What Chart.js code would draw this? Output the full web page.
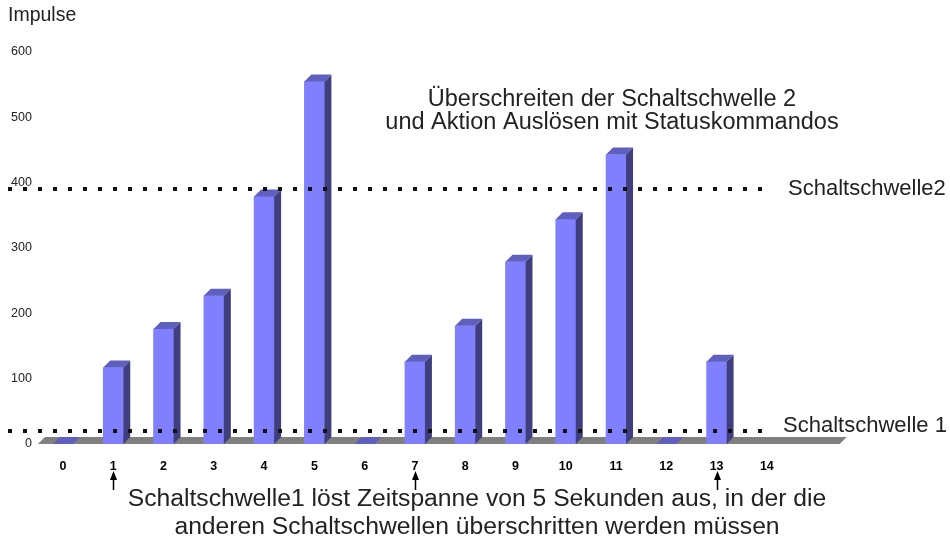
<!DOCTYPE html>
<html>
<head>
<meta charset="utf-8">
<script src="https://cdn.jsdelivr.net/npm/chart.js@4/dist/chart.umd.min.js"></script>
<style>
  html, body { margin: 0; padding: 0; background: #fff; }
  #wrap { width: 950px; height: 541px; position: relative; }
</style>
</head>
<body>
<div id="wrap"><canvas id="chart"></canvas></div>
<script>
// data
const seconds = ["0", "1", "2", "3", "4", "5", "6", "7", "8", "9", "10", "11", "12", "13", "14"];
const impulses = [0, 117, 176, 227, 379, 555, 0, 126, 181, 279, 344, 443, 0, 126, null];
const yTicks = [0, 100, 200, 300, 400, 500, 600];
const threshold1 = 20;
const threshold2 = 391;
const triggerSeconds = ["1", "7", "13"];

const FRONT = "#8080ff";
const SIDE = "#3f3f7f";
const TOP = "#5f5fbf";
const FLOOR = "#808080";
const DEPTH = 7;
const FONT = "'Liberation Sans', Arial, sans-serif";

// floor, 3d faces, threshold lines, arrows and notes
const threeD = {
    id: "threeD",
    beforeDatasetsDraw(chart) {
        const ctx = chart.ctx;
        const x = chart.scales.x;
        const y = chart.scales.y;
        const step = x.getPixelForValue(1) - x.getPixelForValue(0);
        const base = y.getPixelForValue(0);
        const left = chart.chartArea.left;
        const right = x.getPixelForValue(seconds.length - 1) + step * 1.45;
        ctx.save();
        ctx.fillStyle = FLOOR;
        ctx.beginPath();
        ctx.moveTo(left, base);
        ctx.lineTo(right, base);
        ctx.lineTo(right + DEPTH, base - DEPTH);
        ctx.lineTo(left + DEPTH, base - DEPTH);
        ctx.closePath();
        ctx.fill();
        ctx.restore();
    },
    afterDatasetsDraw(chart) {
        const ctx = chart.ctx;
        const meta = chart.getDatasetMeta(0);
        ctx.save();
        meta.data.forEach((bar, i) => {
            if (impulses[i] === null) return;
            const half = bar.width / 2;
            const l = bar.x - half, r = bar.x + half;
            const top = bar.y, base = bar.base;
            // side
            ctx.fillStyle = SIDE;
            ctx.beginPath();
            ctx.moveTo(r, top);
            ctx.lineTo(r + DEPTH, top - DEPTH);
            ctx.lineTo(r + DEPTH, base - DEPTH);
            ctx.lineTo(r, base);
            ctx.closePath();
            ctx.fill();
            // top
            ctx.fillStyle = TOP;
            ctx.beginPath();
            ctx.moveTo(l, top);
            ctx.lineTo(r, top);
            ctx.lineTo(r + DEPTH, top - DEPTH);
            ctx.lineTo(l + DEPTH, top - DEPTH);
            ctx.closePath();
            ctx.fill();
        });
        ctx.restore();
    },
    afterDraw(chart) {
        const ctx = chart.ctx;
        const x = chart.scales.x;
        const y = chart.scales.y;
        ctx.save();

        // dotted thresholds
        ctx.strokeStyle = "#111";
        ctx.lineWidth = 4;
        ctx.setLineDash([4, 11]);
        [threshold1, threshold2].forEach(t => {
            const py = Math.round(y.getPixelForValue(t));
            ctx.beginPath();
            ctx.moveTo(8, py);
            ctx.lineTo(770, py);
            ctx.stroke();
        });
        ctx.setLineDash([]);

        ctx.fillStyle = "#222";
        ctx.textBaseline = "middle";
        ctx.font = "22px " + FONT;
        ctx.textAlign = "left";
        ctx.fillText("Schaltschwelle2", 788, y.getPixelForValue(threshold2));
        ctx.fillText("Schaltschwelle 1", 783, y.getPixelForValue(threshold1) - 5);

        ctx.font = "19.5px " + FONT;
        ctx.fillText("Impulse", 8, 16);

        ctx.textAlign = "center";
        ctx.font = "23.5px " + FONT;
        ctx.fillText("Überschreiten der Schaltschwelle 2", 612, 100);
        ctx.fillText("und Aktion Auslösen mit Statuskommandos", 612, 123);

        ctx.font = "24.7px " + FONT;
        ctx.fillText("Schaltschwelle1 löst Zeitspanne von 5 Sekunden aus, in der die", 477, 499);
        ctx.fillText("anderen Schaltschwellen überschritten werden müssen", 477, 527);

        // arrows under trigger seconds
        ctx.fillStyle = "#000";
        ctx.strokeStyle = "#000";
        ctx.lineWidth = 1.5;
        triggerSeconds.forEach(s => {
            const px = Math.round(x.getPixelForValue(seconds.indexOf(s))) + 0.5;
            ctx.beginPath();
            ctx.moveTo(px, 478);
            ctx.lineTo(px, 490);
            ctx.stroke();
            ctx.beginPath();
            ctx.moveTo(px, 471);
            ctx.lineTo(px - 3.5, 480);
            ctx.lineTo(px + 3.5, 480);
            ctx.closePath();
            ctx.fill();
        });
        ctx.restore();
    }
};

new Chart(document.getElementById("chart"), {
    type: "bar",
    data: {
        labels: seconds,
        datasets: [{
            data: impulses,
            backgroundColor: FRONT,
            barThickness: 20,
            borderWidth: 0
        }]
    },
    options: {
        responsive: true,
        maintainAspectRatio: false,
        animation: false,
        layout: { padding: { left: 5, right: 158, top: 52, bottom: 52 } },
        plugins: {
            legend: { display: false },
            tooltip: { enabled: false }
        },
        scales: {
            x: {
                grid: { display: false, drawTicks: false },
                border: { display: false },
                ticks: {
                    color: "#000",
                    padding: 15,
                    font: { family: FONT, size: 12.5, weight: "bold" }
                }
            },
            y: {
                min: 0,
                max: 600,
                afterBuildTicks: axis => { axis.ticks = yTicks.map(v => ({ value: v })); },
                grid: { display: false, drawTicks: false },
                border: { display: false },
                ticks: {
                    color: "#222",
                    padding: 6,
                    font: { family: FONT, size: 12.5 }
                }
            }
        }
    },
    plugins: [threeD]
});
</script>
</body>
</html>
